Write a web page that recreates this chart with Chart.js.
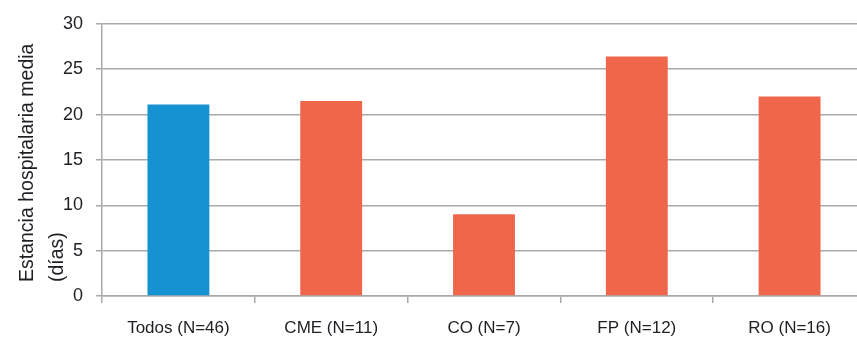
<!DOCTYPE html>
<html>
<head>
<meta charset="utf-8">
<script src="https://cdn.jsdelivr.net/npm/chart.js@4/dist/chart.umd.min.js"></script>
<style>
  html, body { margin: 0; padding: 0; background: #fff; overflow: hidden; }
  #wrap { width: 857px; height: 340px; overflow: hidden; }
  canvas { display: block; }
</style>
</head>
<body>
<div id="wrap"><canvas id="c" width="870" height="340"></canvas></div>
<script>
// Mean hospital stay (days) by group
const categories = ['Todos (N=46)', 'CME (N=11)', 'CO (N=7)', 'FP (N=12)', 'RO (N=16)'];
const stayDays = [21.1, 21.5, 9.0, 26.4, 22.0];
const barColors = ['#1592d2', '#f0664a', '#f0664a', '#f0664a', '#f0664a'];
const yTitleLines = ['Estancia hospitalaria media', '(días)'];

const FONT = '"Liberation Sans", Arial, sans-serif';
const GRID = '#a9a9a9';
const TEXT = '#1e1e24';

// Rotated two-line y axis title, left aligned from the bottom of the axis
const yTitlePlugin = {
  id: 'yTitle',
  afterDraw(chart) {
    const ctx = chart.ctx;
    ctx.save();
    ctx.fillStyle = TEXT;
    ctx.font = '19.5px ' + FONT;
    ctx.textAlign = 'left';
    ctx.textBaseline = 'middle';
    const startY = chart.chartArea.bottom - 14;
    const xs = [28, 58];
    yTitleLines.forEach((line, i) => {
      ctx.save();
      ctx.translate(xs[i], startY);
      ctx.rotate(-Math.PI / 2);
      ctx.fillText(line, 0, 0);
      ctx.restore();
    });
    ctx.restore();
  }
};

new Chart(document.getElementById('c'), {
  type: 'bar',
  data: {
    labels: categories,
    datasets: [{
      data: stayDays,
      backgroundColor: barColors,
      borderWidth: 0,
      barPercentage: 0.405,
      categoryPercentage: 1.0
    }]
  },
  options: {
    responsive: false,
    animation: false,
    devicePixelRatio: 1,
    layout: { padding: { left: 0, right: 4, top: 23, bottom: 0 } },
    plugins: { legend: { display: false }, tooltip: { enabled: false } },
    scales: {
      x: {
        grid: {
          display: true,
          drawOnChartArea: false,
          drawTicks: true,
          tickLength: 7,
          color: GRID,
          lineWidth: 1.5
        },
        border: { display: true, color: GRID, width: 1.5 },
        ticks: {
          color: TEXT,
          font: { family: FONT, size: 17 },
          padding: 15,
          maxRotation: 0,
          autoSkip: false
        },
        afterFit(s) { s.height = 44; }
      },
      y: {
        min: 0,
        max: 30,
        ticks: {
          stepSize: 5,
          color: TEXT,
          font: { family: FONT, size: 18 },
          padding: 13
        },
        grid: {
          color: GRID,
          lineWidth: 1.5,
          tickLength: 6
        },
        border: { display: true, color: GRID, width: 1.5 },
        afterFit(s) { s.width = 102; }
      }
    }
  },
  plugins: [yTitlePlugin]
});
</script>
</body>
</html>
